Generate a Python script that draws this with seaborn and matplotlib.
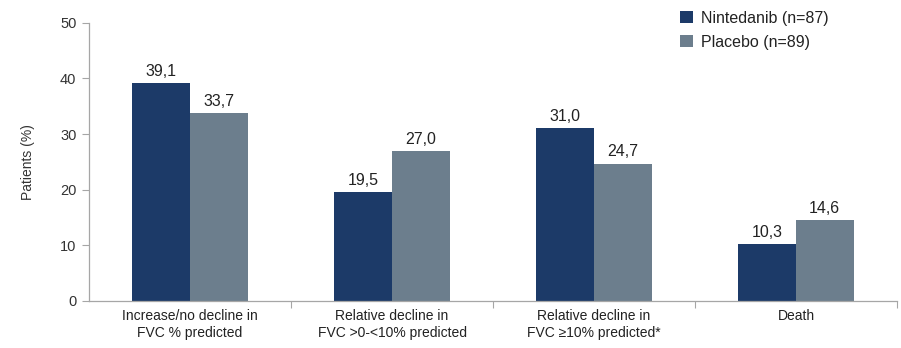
import matplotlib
matplotlib.use("Agg")
import matplotlib.pyplot as plt
import seaborn as sns
import pandas as pd

categories = [
    "Increase/no decline in\nFVC % predicted",
    "Relative decline in\nFVC >0-<10% predicted",
    "Relative decline in\nFVC \u226510% predicted*",
    "Death",
]
nintedanib = [39.1, 19.5, 31.0, 10.3]
placebo = [33.7, 27.0, 24.7, 14.6]
series_names = ["Nintedanib (n=87)", "Placebo (n=89)"]
y_ticks = [0, 10, 20, 30, 40, 50]

colors = ["#1c3a68", "#6c7e8d"]

sns.set_theme(style="white")
plt.rcParams["font.family"] = ["Liberation Sans", "DejaVu Sans"]

df = pd.DataFrame({
    "category": categories * 2,
    "group": [series_names[0]] * 4 + [series_names[1]] * 4,
    "value": nintedanib + placebo,
})

fig = plt.figure(figsize=(9.01, 3.48), dpi=100)
ax = fig.add_axes([89 / 901, 1 - 301 / 348, (897 - 89) / 901, (301 - 22.7) / 348])

sns.barplot(
    data=df, x="category", y="value", hue="group", order=categories,
    hue_order=series_names, palette=colors, width=0.57, gap=0,
    saturation=1, errorbar=None, ax=ax, legend=True, linewidth=0,
)

for container, vals in zip(ax.containers, [nintedanib, placebo]):
    ax.bar_label(container, labels=[f"{v:.1f}".replace(".", ",") for v in vals],
                 padding=3, fontsize=11.5, color="#222222")

ax.set_xlim(-0.5, 3.5)
ax.set_ylim(0, 50)
ax.set_yticks(y_ticks)
ax.tick_params(axis="y", which="major", left=True, length=5, width=0.8,
               color="#a6a6a6", labelsize=10.5, labelcolor="#333333", pad=4)
ax.set_xticks(range(4))
ax.set_xticklabels(categories, fontsize=10, color="#222222")
ax.tick_params(axis="x", which="major", length=0, pad=6)
ax.set_xticks([0.5, 1.5, 2.5, 3.5], minor=True)
ax.tick_params(axis="x", which="minor", bottom=True, length=5, width=0.8,
               color="#a6a6a6")
ax.set_xlabel("")
ax.set_ylabel("Patients (%)", fontsize=10, color="#333333", labelpad=18)

for side in ["top", "right"]:
    ax.spines[side].set_visible(False)
for side in ["left", "bottom"]:
    ax.spines[side].set_color("#a6a6a6")
    ax.spines[side].set_linewidth(0.9)

ax.legend_.remove()
handles, labels = ax.get_legend_handles_labels()
fig.legend(handles, labels, loc="upper left", bbox_to_anchor=(666 / 901, 1.01),
           frameon=False, fontsize=11.5, handlelength=0.8, handleheight=0.8,
           handletextpad=0.5, labelspacing=0.55, labelcolor="#222222")

fig.savefig("out.png", dpi=100)
